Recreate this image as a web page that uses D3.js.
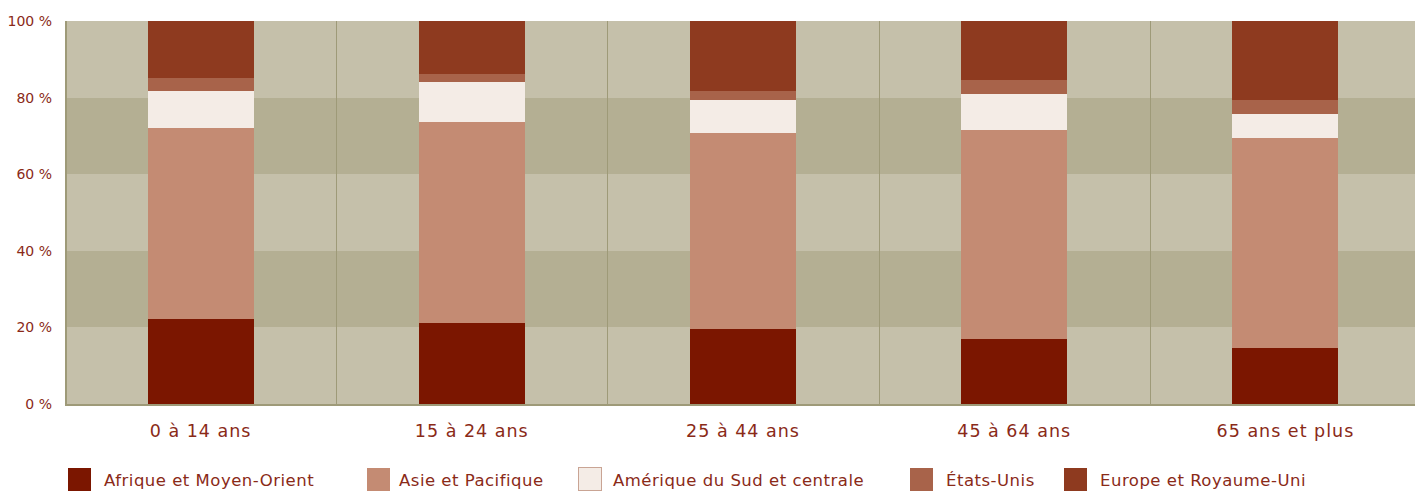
<!DOCTYPE html>
<html>
<head>
<meta charset="utf-8">
<script src="https://cdn.jsdelivr.net/npm/d3@7"></script>
<style>
  body { margin: 0; background: #fff; overflow: hidden; }
  svg { display: block; }
  svg text { font-family: "DejaVu Sans", sans-serif; fill: #8a2a18; }
</style>
</head>
<body>
<svg id="chart"></svg>
<script>
// Data (percent of each age group)
const ageGroups = ["0 à 14 ans", "15 à 24 ans", "25 à 44 ans", "45 à 64 ans", "65 ans et plus"];
const regions = ["Afrique et Moyen-Orient", "Asie et Pacifique", "Amérique du Sud et centrale", "États-Unis", "Europe et Royaume-Uni"];
const afrique = [22.2, 21.1, 19.6, 17.0, 14.7];
const asie = [49.9, 52.5, 51.2, 54.5, 54.8];
const amerique = [9.6, 10.5, 8.5, 9.4, 6.2];
const etatsUnis = [3.5, 2.1, 2.4, 3.7, 3.7];
const europe = [14.8, 13.8, 18.3, 15.4, 20.6];
const yTicks = [0, 20, 40, 60, 80, 100];
const regionColors = ["#7b1600", "#c48b73", "#f4ece6", "#a8634a", "#8e3a1f"];

const width = 1415, height = 491;
const margin = { top: 21, bottom: 87, left: 67 };
const plotRight = 1422; // plot runs a little past the window edge

const svg = d3.select("#chart").attr("width", width).attr("height", height)
    .attr("shape-rendering", "crispEdges");

// build rows for the stack
const rows = ageGroups.map((g, i) => ({
    group: g,
    [regions[0]]: afrique[i],
    [regions[1]]: asie[i],
    [regions[2]]: amerique[i],
    [regions[3]]: etatsUnis[i],
    [regions[4]]: europe[i]
}));
const series = d3.stack().keys(regions)(rows);

const x = d3.scaleBand().domain(ageGroups)
    .range([66, plotRight])
    .paddingInner(0).paddingOuter(0);
const y = d3.scaleLinear().domain([0, 100]).range([height - margin.bottom, margin.top]);
const color = d3.scaleOrdinal().domain(regions).range(regionColors);

// Background bands
const bands = d3.range(0, 100, 20);
svg.append("g").selectAll("rect")
    .data(bands)
    .enter()
    .append("rect")
    .attr("x", margin.left)
    .attr("width", plotRight - margin.left)
    .attr("y", d => Math.round(y(d + 20)))
    .attr("height", d => Math.round(y(d)) - Math.round(y(d + 20)))
    .attr("fill", (d, i) => i % 2 === 0 ? "#c5c0aa" : "#b4af93");

// vertical separators between categories
svg.append("g").selectAll("line")
    .data(ageGroups.slice(1))
    .enter()
    .append("line")
    .attr("x1", d => Math.round(x(d)) - 0.5)
    .attr("x2", d => Math.round(x(d)) - 0.5)
    .attr("y1", y(100))
    .attr("y2", y(0))
    .attr("stroke", "#9e9a78")
    .attr("stroke-width", 1);

// Bars
const barW = x.bandwidth() * 0.391;
svg.append("g").selectAll("g")
    .data(series)
    .enter()
    .append("g")
    .attr("fill", d => color(d.key))
    .selectAll("rect")
    .data(d => d)
    .enter()
    .append("rect")
    .attr("x", d => Math.round(x(d.data.group) + (x.bandwidth() - barW) / 2) - 1)
    .attr("width", Math.round(barW))
    .attr("y", d => Math.round(y(d[1])))
    .attr("height", d => Math.round(y(d[0])) - Math.round(y(d[1])));

// Axis lines
svg.append("line")
    .attr("x1", margin.left - 1).attr("x2", margin.left - 1)
    .attr("y1", y(100)).attr("y2", y(0) + 2)
    .attr("stroke", "#9e9a78").attr("stroke-width", 2);
svg.append("line")
    .attr("x1", margin.left - 2).attr("x2", width)
    .attr("y1", y(0) + 1).attr("y2", y(0) + 1)
    .attr("stroke", "#9e9a78").attr("stroke-width", 2);

// Y labels
svg.append("g").selectAll("text")
    .data(yTicks)
    .enter()
    .append("text")
    .attr("x", 52)
    .attr("y", d => y(d))
    .attr("dy", "0.35em")
    .attr("text-anchor", "end")
    .style("font-size", "14px")
    .text(d => `${d} %`);

// X labels
svg.append("g").selectAll("text")
    .data(ageGroups)
    .enter()
    .append("text")
    .attr("x", d => x(d) + x.bandwidth() / 2 - 1)
    .attr("y", 437)
    .attr("text-anchor", "middle")
    .style("font-size", "17.5px")
    .style("letter-spacing", "1px")
    .text(d => d);

// Legend
const legendX = [67, 366, 578, 909, 1063];
const legendItems = svg.append("g").selectAll("g")
    .data(regions)
    .enter()
    .append("g")
    .attr("transform", (d, i) => `translate(${legendX[i]}, 467)`);

legendItems.append("rect")
    .attr("x", 0.5).attr("y", 0.5)
    .attr("width", 23).attr("height", 23)
    .attr("fill", d => color(d))
    .attr("stroke", (d, i) => i === 2 ? "#c9a494" : "none");

legendItems.append("text")
    .attr("x", (d, i) => i === 1 ? 33 : (i === 2 ? 35 : 37))
    .attr("y", 19)
    .style("font-size", "16.5px")
    .style("letter-spacing", "0.5px")
    .text(d => d);
</script>
</body>
</html>
